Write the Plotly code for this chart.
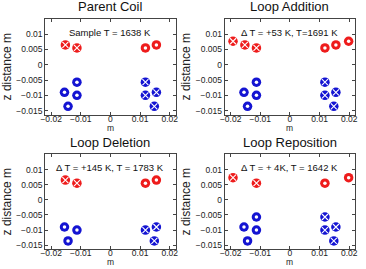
import plotly.graph_objects as go

titles = ["Parent Coil", "Loop Addition", "Loop Deletion", "Loop Reposition"]
notes = ["Sample T = 1638 K", "\u0394 T = +53 K, T=1691 K",
         "\u0394 T = +145 K, T = 1783 K", "\u0394 T = + 4K, T = 1642 K"]

# red loops: (x, z) with current direction: "x" = into page, "o" = out of page
red_x1 = [-0.0152, -0.0113, 0.0118, 0.0155]
red_z1 = [0.0065, 0.0055, 0.0055, 0.0065]
red_d1 = ["x", "x", "o", "o"]

red_x2 = [-0.0192, -0.0152, -0.0113, 0.0118, 0.0155, 0.0198]
red_z2 = [0.0077, 0.0065, 0.0055, 0.0055, 0.0065, 0.0077]
red_d2 = ["x", "x", "x", "o", "o", "o"]

red_x3 = [-0.0152, -0.0113, 0.0118, 0.0155]
red_z3 = [0.0065, 0.0055, 0.0055, 0.0065]
red_d3 = ["x", "x", "o", "o"]

red_x4 = [-0.0192, -0.0113, 0.0118, 0.0198]
red_z4 = [0.0073, 0.0055, 0.0055, 0.0073]
red_d4 = ["x", "x", "o", "o"]

blue_x1 = [-0.0113, -0.0155, -0.0113, -0.0143, 0.0118, 0.0155, 0.0118, 0.0148]
blue_z1 = [-0.0057, -0.0090, -0.0100, -0.0136, -0.0057, -0.0090, -0.0100, -0.0136]
blue_d1 = ["o", "o", "o", "o", "x", "x", "x", "x"]

blue_x3 = [-0.0155, -0.0113, -0.0143, 0.0155, 0.0118, 0.0148]
blue_z3 = [-0.0090, -0.0100, -0.0136, -0.0090, -0.0100, -0.0136]
blue_d3 = ["o", "o", "o", "x", "x", "x"]

panels = [
    (red_x1, red_z1, red_d1, blue_x1, blue_z1, blue_d1),
    (red_x2, red_z2, red_d2, blue_x1, blue_z1, blue_d1),
    (red_x3, red_z3, red_d3, blue_x3, blue_z3, blue_d3),
    (red_x4, red_z4, red_d4, blue_x1, blue_z1, blue_d1),
]

x_ticks = [-0.02, -0.01, 0, 0.01, 0.02]
x_tick_text = ["\u22120.02", "\u22120.01", "0", "0.01", "0.02"]
y_ticks = [-0.015, -0.01, -0.005, 0, 0.005, 0.01]
y_tick_text = ["\u22120.015", "\u22120.01", "\u22120.005", "0", "0.005", "0.01"]

RED = "#ee1c1c"
BLUE = "#1414d2"

H = 269.0
xdoms = [[41/366, 174/366], [224/366, 357/366]]
ydoms = [[1-115/H, 1-19/H], [1-250/H, 1-155/H]]

fig = go.Figure()
ann = []
font = "Liberation Sans, Arial, sans-serif"
for i, (rx, rz, rd, bx, bz, bd) in enumerate(panels):
    r, c = divmod(i, 2)
    xa = "x" if i == 0 else f"x{i+1}"
    ya = "y" if i == 0 else f"y{i+1}"
    for xs, zs, ds, col in [(rx, rz, rd, RED), (bx, bz, bd, BLUE)]:
        fig.add_trace(go.Scatter(x=xs, y=zs, mode="markers", xaxis=xa, yaxis=ya,
                                 marker=dict(symbol="circle", size=9.5, color=col,
                                             line=dict(width=0)),
                                 showlegend=False, hoverinfo="skip"))
        ox = [x for x, d in zip(xs, ds) if d == "o"]
        oz = [z for z, d in zip(zs, ds) if d == "o"]
        cx = [x for x, d in zip(xs, ds) if d == "x"]
        cz = [z for z, d in zip(zs, ds) if d == "x"]
        fig.add_trace(go.Scatter(x=ox, y=oz, mode="markers", xaxis=xa, yaxis=ya,
                                 marker=dict(symbol="circle", size=3.5, color="white",
                                             line=dict(width=0)),
                                 showlegend=False, hoverinfo="skip"))
        fig.add_trace(go.Scatter(x=cx, y=cz, mode="markers", xaxis=xa, yaxis=ya,
                                 marker=dict(symbol="x-thin", size=6, color="white",
                                             line=dict(width=1.1, color="white")),
                                 showlegend=False, hoverinfo="skip"))
    axn = "" if i == 0 else str(i+1)
    fig.layout["xaxis" + axn] = dict(domain=xdoms[c], range=[-0.022, 0.022], anchor=ya,
                                     tickvals=x_ticks, ticktext=x_tick_text,
                                     ticks="inside", ticklen=3, mirror="ticks",
                                     showline=True, linecolor="#444", linewidth=1,
                                     showgrid=False, zeroline=False, ticklabelstandoff=-4,
                                     tickfont=dict(size=8.5, color="#222", family=font))
    fig.layout["yaxis" + axn] = dict(domain=ydoms[r], range=[-0.0163, 0.015], anchor=xa,
                                     tickvals=y_ticks, ticktext=y_tick_text,
                                     ticks="inside", ticklen=3, mirror="ticks",
                                     showline=True, linecolor="#444", linewidth=1,
                                     showgrid=False, zeroline=False,
                                     tickfont=dict(size=8.5, color="#222", family=font),
                                     title=dict(text="z distance m", font=dict(size=12, color="#222", family=font),
                                                standoff=2))
    xc = (xdoms[c][0] + xdoms[c][1]) / 2
    ann.append(dict(text=titles[i], x=xc, y=ydoms[r][1] + 0.010, xref="paper", yref="paper",
                    xanchor="center", yanchor="bottom", showarrow=False,
                    font=dict(size=13, color="#111", family=font)))
    ann.append(dict(text=notes[i], x=xc, y=ydoms[r][1] - 0.022, xref="paper", yref="paper",
                    xanchor="center", yanchor="top", showarrow=False,
                    font=dict(size=9.5, color="#111", family=font)))
    ann.append(dict(text="m", x=xc, y=ydoms[r][0] - 13/H, xref="paper", yref="paper",
                    xanchor="center", yanchor="middle", showarrow=False,
                    font=dict(size=8.5, color="#222", family=font)))

fig.update_layout(width=366, height=269, margin=dict(l=0, r=0, t=0, b=0),
                  plot_bgcolor="white", paper_bgcolor="white", annotations=ann)
fig.write_html("out.html")
